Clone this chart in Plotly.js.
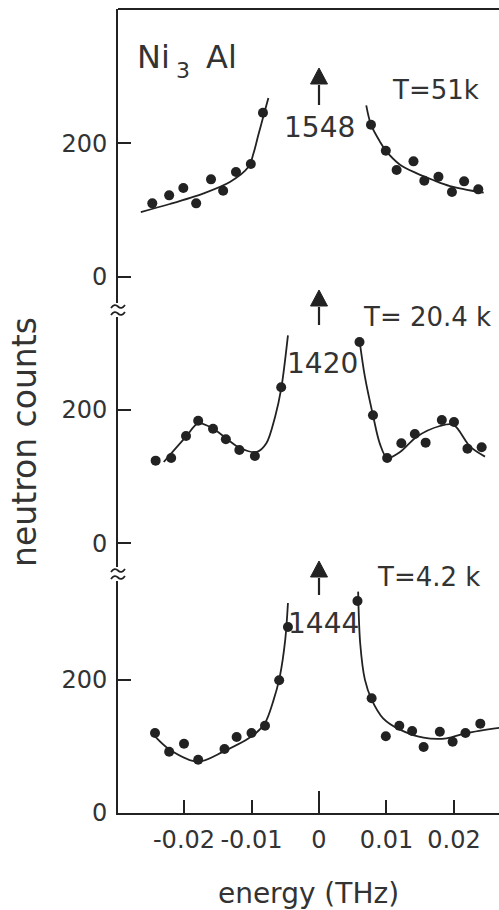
<!DOCTYPE html>
<html>
<head>
<meta charset="utf-8">
<script src="https://cdn.plot.ly/plotly-3.0.1.min.js"></script>
<style>html,body{margin:0;padding:0;background:#fff;}</style>
</head>
<body>
<div id="chart" style="width:499px;height:910px;"></div>
<script>
// Ni3Al neutron spectra at three temperatures: measured points and fitted curves.
// Energy in THz, intensity in neutron counts.

// T = 51 K
const energy51 = [-0.0247,-0.0222,-0.0201,-0.0182,-0.0160,-0.0142,-0.0123,-0.0101,-0.0083,
                   0.0077, 0.0099, 0.0115, 0.0140, 0.0156, 0.0177, 0.0197, 0.0215, 0.0236];
const counts51 = [110,122,133,110,146,129,157,169,246,
                  228,189,160,173,144,150,127,143,131];
const fit51LeftE  = [-0.0264,-0.0221,-0.0171,-0.0132,-0.0105,-0.0097,-0.0090,-0.0082,-0.0075];
const fit51LeftC  = [97,109,125,142,164,185,212,242,268];
const fit51RightE = [0.0070,0.0077,0.0090,0.0099,0.0120,0.0145,0.0169,0.0194,0.0244];
const fit51RightC = [257,228,203,189,168,155,145,136,126];

// T = 20.4 K
const energy20 = [-0.0242,-0.0219,-0.0197,-0.0179,-0.0157,-0.0138,-0.0118,-0.0095,-0.0056,
                   0.0060, 0.0080, 0.0101, 0.0122, 0.0142, 0.0158, 0.0182, 0.0200, 0.0220, 0.0241];
const counts20 = [124,128,161,184,172,156,140,131,234,
                  302,192,128,150,164,151,185,182,142,144];
const fit20LeftE  = [-0.0230,-0.0197,-0.0179,-0.0157,-0.0137,-0.0117,-0.0092,-0.0078,-0.0065,-0.0056,-0.0046];
const fit20LeftC  = [122,160,180,172,157,143,137,150,190,232,312];
const fit20RightE = [0.0060,0.0068,0.0080,0.0090,0.0101,0.0120,0.0145,0.0179,0.0199,0.0224,0.0246];
const fit20RightC = [305,250,192,150,128,137,160,176,178,145,130];

// T = 4.2 K
const energy4 = [-0.0243,-0.0222,-0.0200,-0.0179,-0.0140,-0.0122,-0.0100,-0.0080,-0.0059,-0.0046,
                  0.0057, 0.0078, 0.0099, 0.0119, 0.0138, 0.0155, 0.0179, 0.0198, 0.0217, 0.0239];
const counts4 = [120,92,104,80,96,114,120,131,199,279,
                 318,172,115,131,123,99,122,107,120,134];
const fit4LeftE  = [-0.0243,-0.0221,-0.0179,-0.0142,-0.0097,-0.0080,-0.0068,-0.0058,-0.0050,-0.0046];
const fit4LeftC  = [115,95,77,92,117,135,167,205,260,315];
const fit4RightE = [0.0058,0.0061,0.0068,0.0078,0.0095,0.0120,0.0155,0.0189,0.0219,0.0268];
const fit4RightC = [332,255,200,170,142,125,113,112,120,128];

// Peak heights (off scale) and temperature labels
const peakLabels = ['1548','1420','1444'];
const tempLabels = ['T=51k','T= 20.4 k','T=4.2 k'];

// Axis ticks
const energyTicks = [-0.02,-0.01,0,0.01,0.02];
const energyTickText = ['-0.02','-0.01','0','0.01','0.02'];
const countTicks = [0,200];

const INK = '#222';
const TXT = '#333';
const FONT = 'DejaVu Sans, Arial, sans-serif';

// plot-area geometry (pixels) used to place decorations
const W = 499, H = 910, ML = 118, MR = 0, MT = 9, MB = 97;
const PW = W - ML - MR, PH = H - MT - MB;
const XR = [-0.02978, 0.02667];
const py = (y) => (H - MB - y) / PH;          // pixel row -> paper y
const dpx = (d) => d * (XR[1] - XR[0]) / PW;  // pixel width -> energy width
const ex = (x) => XR[0] + dpx(x - ML);        // pixel column -> energy

function fit(xs, ys, yax) {
  return {x: xs, y: ys, xaxis: 'x', yaxis: yax, mode: 'lines', type: 'scatter',
          line: {color: INK, width: 1.8, shape: 'spline', smoothing: 0.9},
          hoverinfo: 'skip', showlegend: false, cliponaxis: false};
}
function dots(xs, ys, yax) {
  return {x: xs, y: ys, xaxis: 'x', yaxis: yax, mode: 'markers', type: 'scatter',
          marker: {color: INK, size: 10}, showlegend: false, cliponaxis: false};
}

const data = [
  fit(fit51LeftE, fit51LeftC, 'y3'), fit(fit51RightE, fit51RightC, 'y3'), dots(energy51, counts51, 'y3'),
  fit(fit20LeftE, fit20LeftC, 'y2'), fit(fit20RightE, fit20RightC, 'y2'), dots(energy20, counts20, 'y2'),
  fit(fit4LeftE, fit4LeftC, 'y'),   fit(fit4RightE, fit4RightC, 'y'),   dots(energy4, counts4, 'y')
];

function countAxis(domain, range, extra) {
  return Object.assign({
    domain: domain, range: range, anchor: 'x',
    tickvals: countTicks, ticks: 'inside', ticklen: 13, tickwidth: 2, tickcolor: INK,
    showline: true, linewidth: 2, linecolor: INK,
    showgrid: false, zeroline: false, fixedrange: true,
    ticklabelstandoff: 4,
    tickfont: {family: FONT, size: 24, color: TXT}
  }, extra || {});
}

const txt = (size) => ({family: FONT, size: size, color: TXT});

// upward arrow above the off-scale peak at zero energy: shaft + filled head
function arrowShapes(tipY, baseY, tailY) {
  const hw = dpx(8.5);
  return [
    {type: 'line', xref: 'x', yref: 'paper', x0: 0, x1: 0, y0: py(tailY), y1: py(baseY + 1),
     line: {color: INK, width: 2.2}},
    {type: 'path', xref: 'x', yref: 'paper',
     path: `M ${-hw},${py(baseY)} L ${hw},${py(baseY)} L 0,${py(tipY)} Z`,
     fillcolor: INK, line: {color: INK, width: 1}}
  ];
}

// axis break mark: gap in the axis line with two small tildes
function breakShapes(cy) {
  const px = (d) => d / PW;
  const tilde = (dy) => {
    const y = cy + dy;
    return `M ${px(-7)},${py(y + 1.5)} Q ${px(-3.5)},${py(y - 3.5)} ${px(0)},${py(y)} T ${px(7)},${py(y - 1.5)}`;
  };
  return [
    {type: 'rect', xref: 'paper', yref: 'paper', x0: px(-4), x1: px(4), y0: py(cy + 7), y1: py(cy - 7),
     fillcolor: '#fff', line: {width: 0}},
    {type: 'path', xref: 'paper', yref: 'paper', path: tilde(-3.5), line: {color: INK, width: 1.8}},
    {type: 'path', xref: 'paper', yref: 'paper', path: tilde(3.5), line: {color: INK, width: 1.8}}
  ];
}

function label(text, x, yPix, xanchor, size) {
  return {x: x, xref: 'x', y: py(yPix), yref: 'paper', text: text, showarrow: false,
          xanchor: xanchor, yanchor: 'middle', font: txt(size)};
}

const layout = {
  width: W, height: H,
  margin: {l: ML, r: MR, t: MT, b: MB},
  paper_bgcolor: '#fff', plot_bgcolor: '#fff',
  showlegend: false,
  xaxis: {
    range: XR, anchor: 'y',
    tickvals: energyTicks, ticktext: energyTickText,
    ticks: 'inside', ticklen: 13, tickwidth: 2, tickcolor: INK,
    showline: true, linewidth: 2, linecolor: INK,
    showgrid: false, zeroline: false, fixedrange: true,
    ticklabelstandoff: 4,
    tickfont: txt(24),
    title: {text: 'energy (THz)', font: txt(28), standoff: 37}
  },
  yaxis:  countAxis([0, 0.2973], [0, 358.5]),
  yaxis2: countAxis([0.2973, 0.6256], [-46, 350],
          {title: {text: 'neutron counts', font: txt(33), standoff: 15}}),
  yaxis3: countAxis([0.6256, 1], [-50, 401.5]),
  shapes: [
    // frame top edge
    {type: 'line', xref: 'paper', yref: 'paper', x0: 0, x1: 1, y0: 1, y1: 1,
     line: {color: INK, width: 2}},
    // long tick at zero energy
    {type: 'line', xref: 'x', yref: 'paper', x0: 0, x1: 0, y0: 0, y1: 22 / PH,
     line: {color: INK, width: 2}},
    ...arrowShapes(68, 84, 105),
    ...arrowShapes(290, 306, 325),
    ...arrowShapes(561, 577, 595),
    ...breakShapes(310),
    ...breakShapes(574)
  ],
  annotations: [
    // sample name Ni3Al, with the subscript set as its own smaller, lowered label
    label('Ni', ex(135), 57,   'left', 32),
    label('3',  ex(174), 70.5, 'left', 22),
    label('Al', ex(204), 57,   'left', 32),
    label(peakLabels[0], 0,      127, 'center', 28), label(tempLabels[0], 0.01050, 90,  'left', 26),
    label(peakLabels[1], 0.0005, 363, 'center', 28), label(tempLabels[1], 0.00620, 317, 'left', 26),
    label(peakLabels[2], 0.0007, 623, 'center', 28), label(tempLabels[2], 0.00830, 577, 'left', 26)
  ]
};

Plotly.newPlot('chart', data, layout, {staticPlot: true, displayModeBar: false});
</script>
</body>
</html>
